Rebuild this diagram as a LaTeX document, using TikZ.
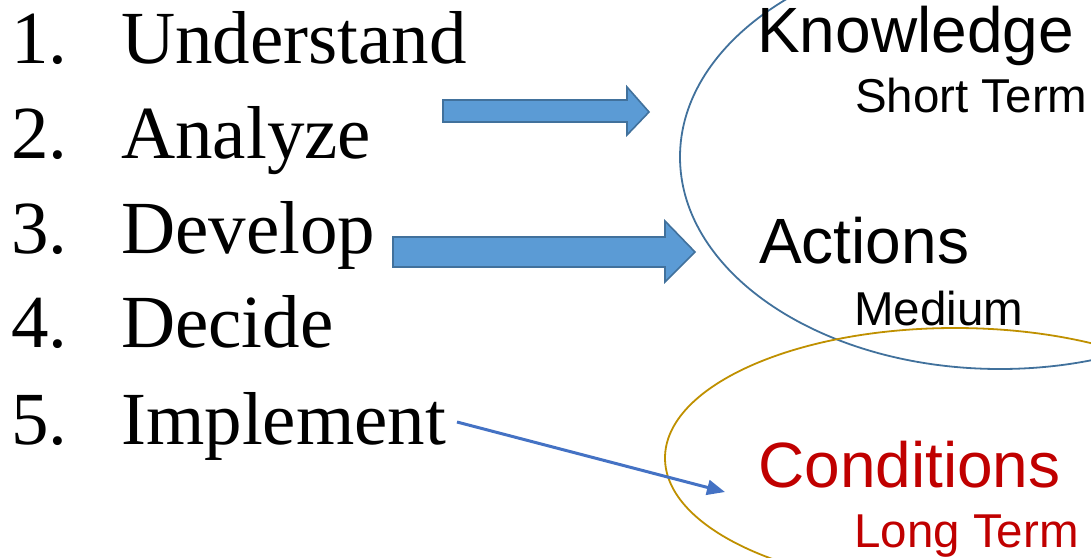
\documentclass[tikz,border=0pt]{standalone}
\usepackage{fontspec}
\setmainfont{Liberation Serif}
\setsansfont{Liberation Sans}
\usetikzlibrary{arrows.meta}
\definecolor{ellblue}{HTML}{41719C}
\definecolor{ellgold}{HTML}{BF9000}
\definecolor{arrfill}{HTML}{5B9BD5}
\definecolor{arrline}{HTML}{41719C}
\definecolor{thinblue}{HTML}{4472C4}
\definecolor{condred}{HTML}{C00000}
\begin{document}
\begin{tikzpicture}[x=1pt,y=-1pt,
  listtxt/.style={anchor=base west,inner sep=0pt,font=\fontsize{75}{75}\selectfont},
  bigtxt/.style={anchor=base west,inner sep=0pt,font=\sffamily\fontsize{64}{64}\selectfont},
  smalltxt/.style={anchor=base west,inner sep=0pt,font=\sffamily\fontsize{47.5}{47.5}\selectfont},
  fatarrow/.style={fill=arrfill,draw=arrline,line width=1.6pt,line join=miter},
  ringblue/.style={draw=ellblue,line width=1.8pt},
  ringgold/.style={draw=ellgold,line width=1.8pt},
  thinarrow/.style={draw=thinblue,line width=3pt,-{Triangle[length=18pt,width=15pt]}}]
\useasboundingbox (0,0) rectangle (1091,557);
\clip (0,0) rectangle (1091,557);
% list
\node[listtxt] (n1) at (11,63) {1.};
\node[listtxt] (n2) at (11,158) {2.};
\node[listtxt] (n3) at (11,253) {3.};
\node[listtxt] (n4) at (11,347) {4.};
\node[listtxt] (n5) at (11,444) {5.};
\node[listtxt] (w1) at (121,63) {Understand};
\node[listtxt] (w2) at (121,158) {Analyze};
\node[listtxt] (w3) at (121,253) {Develop};
\node[listtxt] (w4) at (121,347) {Decide};
\node[listtxt] (w5) at (121,444) {Implement};
% ellipses
\draw[ringblue] (1000,157) ellipse [x radius=320pt, y radius=212pt];
\draw[ringgold] (955,458) ellipse [x radius=290pt, y radius=130pt];
% right texts
\node[bigtxt] (know) at (757,52) {Knowledge};
\node[smalltxt] (short) at (855,112) {Short Term};
\node[bigtxt] (act) at (759,263) {Actions};
\node[smalltxt] (med) at (854,325) {Medium};
\node[bigtxt,text=condred] (cond) at (758,487) {Conditions};
\node[smalltxt,text=condred] (long) at (854,547) {Long Term};
% fat arrows
\draw[fatarrow] (443,100) -- (627,100) -- (627,87) -- (649,112) -- (627,135) -- (627,122) -- (443,122) -- cycle;
\draw[fatarrow] (393,237) -- (665,237) -- (665,221) -- (695,252) -- (665,282) -- (665,267) -- (393,267) -- cycle;
% thin arrow
\coordinate (ia) at (457,422);
\coordinate (ib) at (725,492);
\draw[thinarrow] (ia) -- (ib);
\end{tikzpicture}
\end{document}
